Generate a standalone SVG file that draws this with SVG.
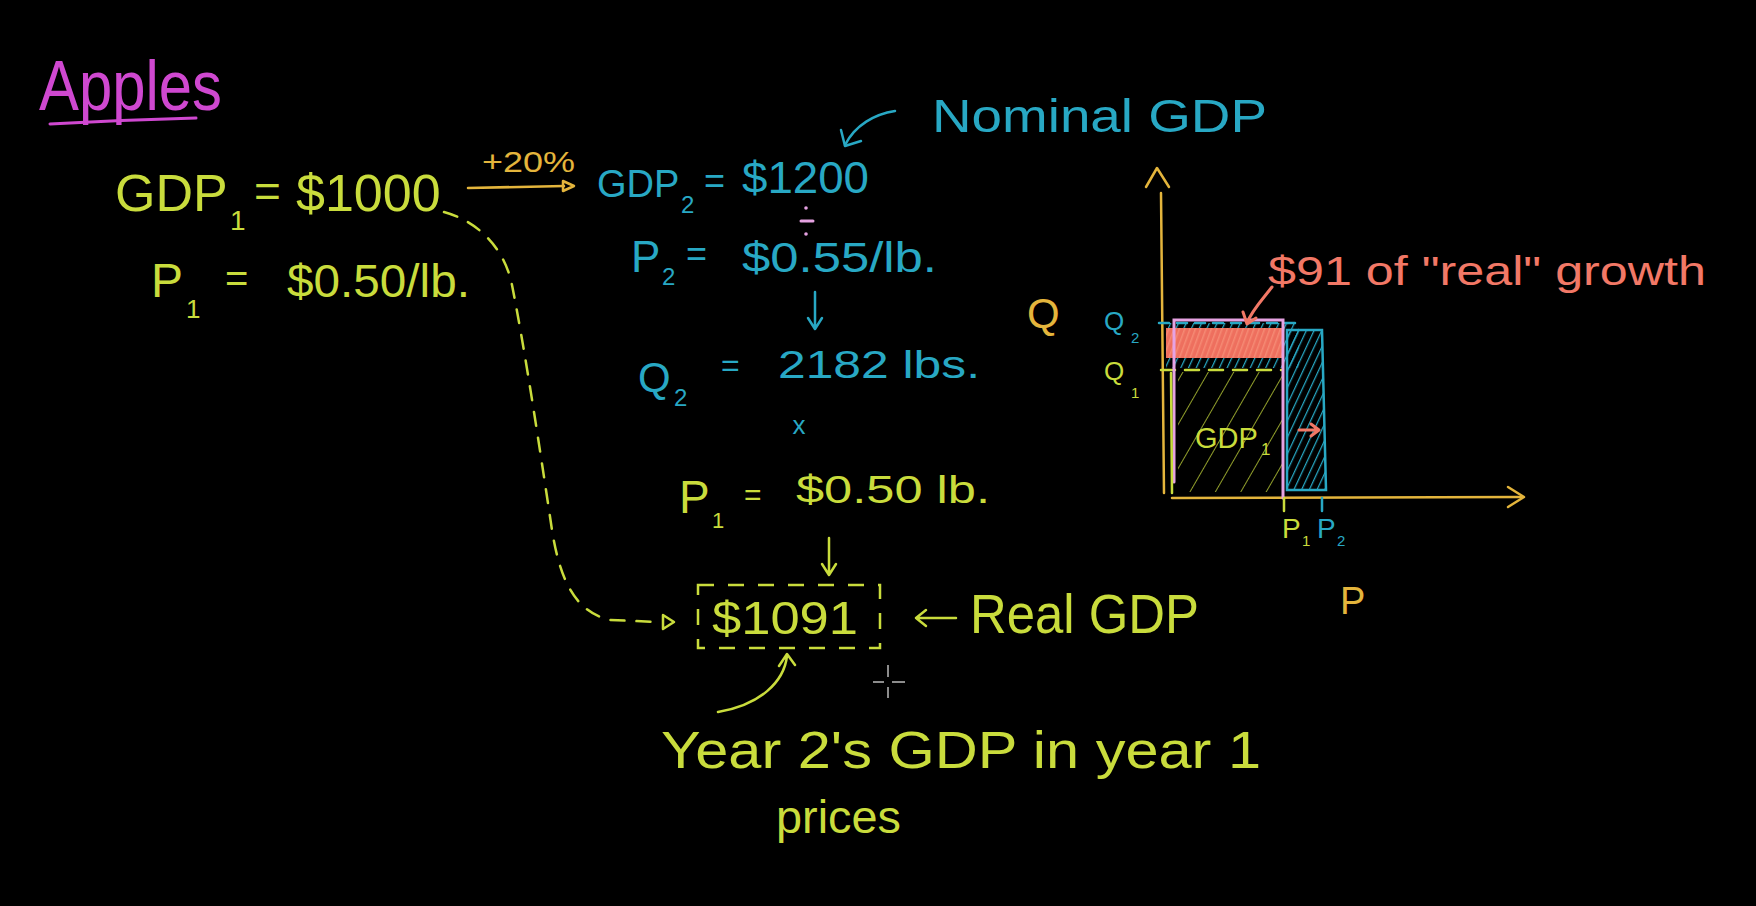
<svg xmlns="http://www.w3.org/2000/svg" width="1756" height="906" viewBox="0 0 1756 906">
<defs>
<style>
text{font-family:"Liberation Sans",Arial,sans-serif}
.yg{fill:#c9dc3c}
.bl{fill:#28a8c4}
.mg{fill:#cf48d0}
.or{fill:#e4b53c}
.sa{fill:#f27866}
.syg{stroke:#c9dc3c;fill:none;stroke-width:2.5;stroke-linecap:round;stroke-linejoin:round}
.sbl{stroke:#28a8c4;fill:none;stroke-width:2.5;stroke-linecap:round;stroke-linejoin:round}
.sor{stroke:#e4b53c;fill:none;stroke-width:2.5;stroke-linecap:round;stroke-linejoin:round}
.ssa{stroke:#f27866;fill:none;stroke-width:3;stroke-linecap:round;stroke-linejoin:round}
.spk{stroke:#e6a2e2;fill:none;stroke-width:3;stroke-linecap:round}
</style>
<pattern id="hatchYG" width="22" height="22" patternUnits="userSpaceOnUse" patternTransform="rotate(30)">
<line x1="0" y1="0" x2="0" y2="22" stroke="#c9dc3c" stroke-width="1.6"/>
</pattern>
<pattern id="hatchBL" width="7" height="7" patternUnits="userSpaceOnUse" patternTransform="rotate(25)">
<line x1="0" y1="0" x2="0" y2="7" stroke="#28a8c4" stroke-width="2.5"/>
</pattern>
<pattern id="hatchSA" width="5" height="5" patternUnits="userSpaceOnUse" patternTransform="rotate(20)">
<line x1="0" y1="0" x2="0" y2="5" stroke="#f58a74" stroke-width="3"/>
</pattern>
</defs>
<rect width="1756" height="906" fill="#000"/>

<g id="title">
<text class="mg" x="39" y="110" font-size="70" textLength="183" lengthAdjust="spacingAndGlyphs">Apples</text>
<path d="M50 124 Q120 120 196 118" stroke="#cf48d0" stroke-width="3" fill="none" stroke-linecap="round"/>
</g>

<g id="gdp1">
<text class="yg" y="211" font-size="52"><tspan x="115">GDP</tspan><tspan x="230" y="230" font-size="28">1</tspan><tspan x="254" y="207" font-size="46">=</tspan><tspan x="296" y="211">$1000</tspan></text>
</g>

<g id="p1-left">
<text class="yg" y="297" font-size="48"><tspan x="151">P</tspan><tspan x="186" y="318" font-size="26">1</tspan><tspan x="225" y="292" font-size="40">=</tspan><tspan x="287" y="297" font-size="46" textLength="183" lengthAdjust="spacingAndGlyphs">$0.50/lb.</tspan></text>
</g>

<g id="growth">
<text class="or" x="482" y="172" font-size="30" textLength="93" lengthAdjust="spacingAndGlyphs">+20%</text>
</g>

<g id="gdp2">
<text class="bl" y="197" font-size="38"><tspan x="597">GDP</tspan><tspan x="681" y="213" font-size="24">2</tspan><tspan x="704" y="193" font-size="36">=</tspan><tspan x="742" y="193" font-size="44" textLength="127" lengthAdjust="spacingAndGlyphs">$1200</tspan></text>
</g>

<g id="nominal">
<text class="bl" x="932" y="132" font-size="46" textLength="335" lengthAdjust="spacingAndGlyphs">Nominal GDP</text>
</g>

<g id="divide">
<circle cx="806" cy="208" r="1.8" fill="#e6a2e2"/>
<line x1="801" y1="221" x2="813" y2="221" class="spk"/>
<circle cx="806" cy="234" r="1.8" fill="#e6a2e2"/>
</g>

<g id="p2">
<text class="bl" y="272" font-size="44"><tspan x="631">P</tspan><tspan x="662" y="285" font-size="24">2</tspan><tspan x="686" y="266" font-size="36">=</tspan><tspan x="742" y="272" font-size="42" textLength="195" lengthAdjust="spacingAndGlyphs">$0.55/lb.</tspan></text>
</g>

<g id="q2">
<text class="bl" y="392" font-size="42"><tspan x="638">Q</tspan><tspan x="674" y="406" font-size="24">2</tspan><tspan x="721" y="376" font-size="32">=</tspan><tspan x="778" y="378" font-size="38" textLength="202" lengthAdjust="spacingAndGlyphs">2182 lbs.</tspan></text>
</g>

<g id="times">
<text class="bl" x="799" y="434" font-size="26" text-anchor="middle">x</text>
</g>

<g id="p1-mid">
<text class="yg" y="513" font-size="46"><tspan x="679">P</tspan><tspan x="712" y="528" font-size="22">1</tspan><tspan x="744" y="505" font-size="30">=</tspan><tspan x="796" y="503" font-size="38" textLength="194" lengthAdjust="spacingAndGlyphs">$0.50 lb.</tspan></text>
</g>

<g id="real-gdp-value">
<rect x="698" y="585" width="182" height="63" fill="none" stroke="#c9dc3c" stroke-width="2.5" stroke-dasharray="16 14"/>
<text class="yg" x="712" y="634" font-size="46" textLength="146" lengthAdjust="spacingAndGlyphs">$1091</text>
</g>

<g id="real-gdp-label">
<text class="yg" x="970" y="633" font-size="56" textLength="229" lengthAdjust="spacingAndGlyphs">Real GDP</text>
</g>

<g id="year-note">
<text class="yg" x="661" y="768" font-size="52" textLength="600" lengthAdjust="spacingAndGlyphs">Year 2's GDP in year 1</text>
<text class="yg" x="776" y="833" font-size="46" textLength="125" lengthAdjust="spacingAndGlyphs">prices</text>
</g>

<g id="chart">
<path class="sor" d="M1161 193 L1164 493"/>
<path class="sor" d="M1146 187 L1157 168 L1169 187"/>
<path class="sor" d="M1172 498 L1522 497"/>
<path class="sor" d="M1508 487 L1524 497 L1508 507"/>
<rect x="1166" y="323" width="133" height="45" fill="url(#hatchBL)"/>
<rect x="1166" y="328" width="116" height="30" fill="#ee6f5e"/>
<rect x="1166" y="328" width="116" height="30" fill="url(#hatchSA)"/>
<rect x="1178" y="372" width="104" height="120" fill="url(#hatchYG)" opacity="0.9"/>
<path d="M1287 330 L1322 330 L1326 490 L1287 490 Z" fill="url(#hatchBL)" stroke="#28a8c4" stroke-width="2.5"/>
<path class="sbl" d="M1159 323 L1300 323" stroke-dasharray="10 8"/>
<path class="syg" d="M1161 370 L1282 370" stroke-dasharray="14 10"/>
<path class="spk" d="M1174 482 L1174 320 L1283 320 L1283 498"/>
<path class="syg" d="M1171 373 L1172 493" stroke-width="1.5"/>
<text class="yg" y="448" font-size="29"><tspan x="1195">GDP</tspan><tspan x="1261" y="455" font-size="17">1</tspan></text>
<path class="ssa" d="M1299 430 L1318 430 M1311 424 L1319 430 L1311 436" stroke-width="2.5"/>
<path class="syg" d="M1284 498 L1284 511"/>
<path class="sbl" d="M1322 498 L1322 511"/>
<text class="yg" y="538" font-size="28"><tspan x="1282">P</tspan><tspan x="1302" y="546" font-size="15">1</tspan></text>
<text class="bl" y="538" font-size="28"><tspan x="1317">P</tspan><tspan x="1337" y="546" font-size="15">2</tspan></text>
<text class="bl" y="330" font-size="26"><tspan x="1104">Q</tspan><tspan x="1131" y="343" font-size="15">2</tspan></text>
<text class="yg" y="380" font-size="26"><tspan x="1104">Q</tspan><tspan x="1131" y="398" font-size="15">1</tspan></text>
<text class="or" x="1027" y="328" font-size="42">Q</text>
<text class="or" x="1340" y="614" font-size="38">P</text>
</g>

<g id="real-growth-label">
<text class="sa" x="1268" y="285" font-size="40" textLength="438" lengthAdjust="spacingAndGlyphs">$91 of "real" growth</text>
</g>

<g id="connectors">
<path class="sor" d="M468 188 L564 186"/>
<path class="sor" d="M563 181 L574 186 L563 191 Z"/>
<path class="sbl" d="M895 111 C875 114 855 125 845 145"/>
<path class="sbl" d="M841 130 L845 146 L861 141"/>
<path class="sbl" d="M815 292 L815 328 M808 318 L815 329 L822 318"/>
<path class="syg" d="M829 538 L829 574 M822 564 L829 575 L836 564"/>
<path class="syg" d="M444 212 C480 222 505 250 512 285 C525 350 540 450 552 530 C560 580 575 612 610 620 L658 622" stroke-width="2" stroke-dasharray="14 12"/>
<path class="syg" d="M663 615 L674 622 L663 629 Z" stroke-width="2"/>
<path class="syg" d="M956 618 L916 618 M926 610 L916 618 L926 626"/>
<path class="syg" d="M718 712 C760 705 784 682 787 656 M779 666 L787 654 L795 665"/>
<path class="ssa" d="M1272 287 C1262 300 1252 310 1247 323 M1243 312 L1247 324 L1256 318"/>
</g>

<g id="cursor">
<path d="M888 665 L888 677 M888 687 L888 698 M873 682 L884 682 M892 682 L905 682" stroke="#bbbbbb" stroke-width="1.5" fill="none"/>
</g>
</svg>
